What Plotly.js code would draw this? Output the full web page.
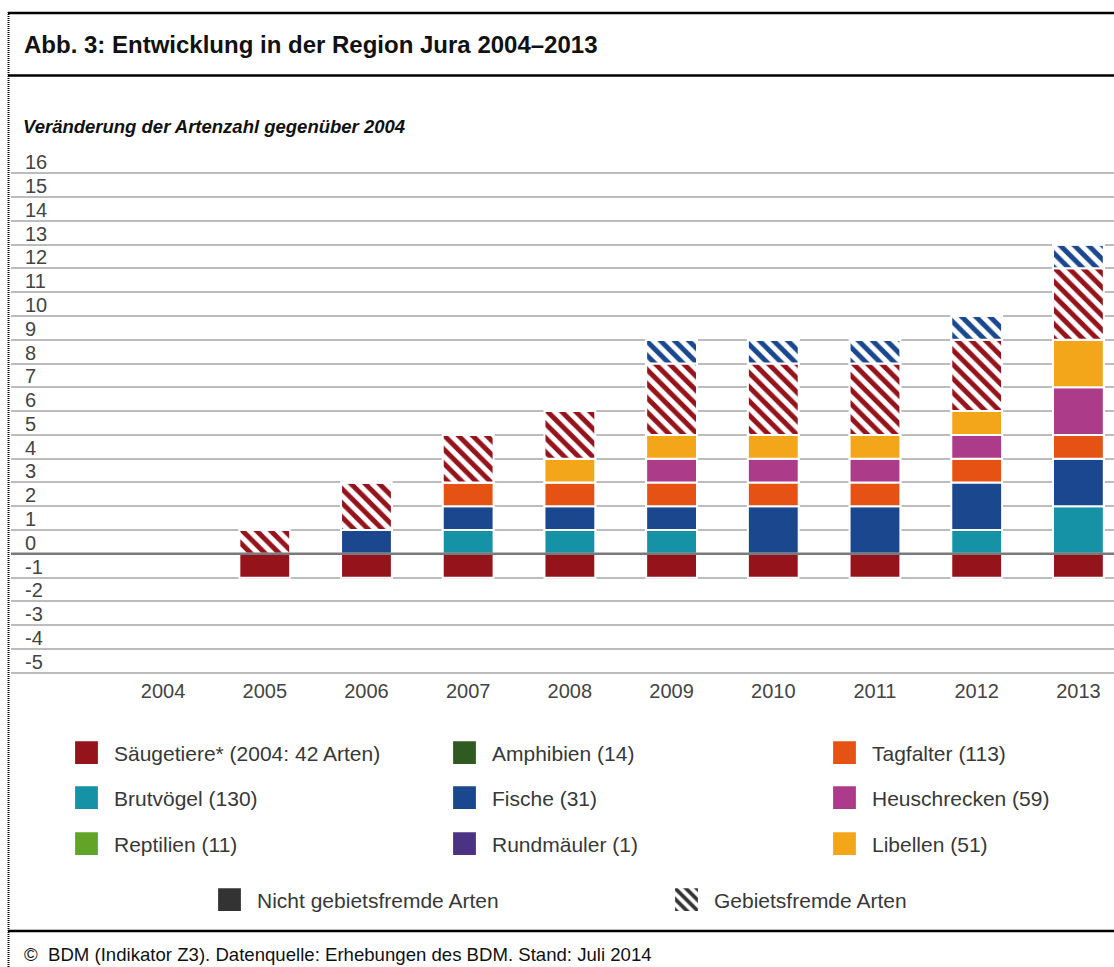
<!DOCTYPE html>
<html>
<head>
<meta charset="utf-8">
<script src="https://cdn.plot.ly/plotly-3.0.1.min.js"></script>
<style>
  html, body { margin: 0; padding: 0; background: #ffffff; }
  #chart { width: 1114px; height: 967px; }
</style>
</head>
<body>
<div id="chart"></div>
<script>
// ---------- data ----------
var years = ['2004', '2005', '2006', '2007', '2008', '2009', '2010', '2011', '2012', '2013'];

// native species (solid)
var saeugetiere  = [0, -1, -1, -1, -1, -1, -1, -1, -1, -1];
var amphibien    = [0, 0, 0, 0, 0, 0, 0, 0, 0, 0];
var tagfalter    = [0, 0, 0, 1, 1, 1, 1, 1, 1, 1];
var brutvoegel   = [0, 0, 0, 1, 1, 1, 0, 0, 1, 2];
var fische       = [0, 0, 1, 1, 1, 1, 2, 2, 2, 2];
var heuschrecken = [0, 0, 0, 0, 0, 1, 1, 1, 1, 2];
var reptilien    = [0, 0, 0, 0, 0, 0, 0, 0, 0, 0];
var rundmaeuler  = [0, 0, 0, 0, 0, 0, 0, 0, 0, 0];
var libellen     = [0, 0, 0, 0, 1, 1, 1, 1, 1, 2];

// non-native species (hatched)
var saeugetiereFremd = [0, 1, 2, 2, 2, 3, 3, 3, 3, 3];
var fischeFremd      = [0, 0, 0, 0, 0, 1, 1, 1, 1, 1];

// legend-only keys (no bars of their own)
var legendOnly = [0, 0, 0, 0, 0, 0, 0, 0, 0, 0];

var seriesNames = {
  saeugetiere: 'Säugetiere* (2004: 42 Arten)',
  amphibien: 'Amphibien (14)',
  tagfalter: 'Tagfalter (113)',
  brutvoegel: 'Brutvögel (130)',
  fische: 'Fische (31)',
  heuschrecken: 'Heuschrecken (59)',
  reptilien: 'Reptilien (11)',
  rundmaeuler: 'Rundmäuler (1)',
  libellen: 'Libellen (51)',
  nativ: 'Nicht gebietsfremde Arten',
  fremd: 'Gebietsfremde Arten'
};

var yTickVals = [-5, -4, -3, -2, -1, 0, 1, 2, 3, 4, 5, 6, 7, 8, 9, 10, 11, 12, 13, 14, 15, 16];

// ---------- styles ----------
var C = {
  saeugetiere: '#95141c',
  amphibien: '#2f5b22',
  tagfalter: '#e55214',
  brutvoegel: '#1592a6',
  fische: '#1a478e',
  heuschrecken: '#ac3b89',
  reptilien: '#62a427',
  rundmaeuler: '#4b3282',
  libellen: '#f4a61b',
  dark: '#333333'
};

var FONT = 'Liberation Sans, Arial, Helvetica, sans-serif';
var W = 1114, H = 967;
var ML = 11, MR = 0, MT = 172, MB = 293;
var PW = W - ML - MR, PH = H - MT - MB;
function px2x(px) { return (px - ML) / PW; }
function py2y(py) { return (H - MB - py) / PH; }

var edge = { color: '#ffffff', width: 2 };

function solid(key, y, legendId) {
  return {
    type: 'bar', x: years, y: y, name: seriesNames[key],
    marker: { color: C[key], line: edge },
    legend: legendId, showlegend: true, hoverinfo: 'x+y+name'
  };
}
function hatched(color, y, name) {
  return {
    type: 'bar', x: years, y: y, name: name,
    marker: { color: color, line: edge,
      pattern: { shape: '\\', fgcolor: color, bgcolor: '#ffffff', size: 10, solidity: 0.5 } },
    showlegend: false, hoverinfo: 'x+y+name'
  };
}

var traces = [
  solid('saeugetiere', saeugetiere, 'legend'),
  solid('brutvoegel', brutvoegel, 'legend4'),
  solid('fische', fische, 'legend5'),
  solid('tagfalter', tagfalter, 'legend3'),
  solid('heuschrecken', heuschrecken, 'legend6'),
  solid('libellen', libellen, 'legend9'),
  solid('amphibien', amphibien, 'legend2'),
  solid('reptilien', reptilien, 'legend7'),
  solid('rundmaeuler', rundmaeuler, 'legend8'),
  hatched(C.saeugetiere, saeugetiereFremd, 'Säugetiere, gebietsfremd'),
  hatched(C.fische, fischeFremd, 'Fische, gebietsfremd'),
  { type: 'bar', x: years, y: legendOnly, name: seriesNames.nativ, legend: 'legend10', showlegend: true,
    marker: { color: C.dark, line: edge }, hoverinfo: 'skip' },
  { type: 'bar', x: years, y: legendOnly, name: seriesNames.fremd, legend: 'legend11', showlegend: true,
    marker: { color: C.dark, line: edge,
      pattern: { shape: '\\', fgcolor: C.dark, bgcolor: '#ffffff', size: 5, solidity: 0.5 } },
    hoverinfo: 'skip' }
];

// legend placement (text start px, row centre px)
var legendFont = { family: FONT, size: 21, color: '#383838' };
var legendPos = [
  ['legend', 114, 753], ['legend2', 492, 753], ['legend3', 872, 753],
  ['legend4', 114, 798], ['legend5', 492, 798], ['legend6', 872, 798],
  ['legend7', 114, 844], ['legend8', 492, 844], ['legend9', 872, 844],
  ['legend10', 257, 900], ['legend11', 714, 900]
];

var layout = {
  width: W, height: H,
  showlegend: true,
  margin: { l: ML, r: MR, t: MT, b: MB, autoexpand: false },
  paper_bgcolor: '#ffffff', plot_bgcolor: '#ffffff',
  barmode: 'relative', bargap: 0.5,
  font: { family: FONT, color: '#444444' },
  title: {
    text: '<b>Abb. 3: Entwicklung in der Region Jura 2004–2013</b>',
    xref: 'container', yref: 'container',
    x: 24 / W, xanchor: 'left', y: 1 - 45 / H, yanchor: 'middle',
    font: { family: FONT, size: 24, color: '#111111' }
  },
  xaxis: {
    type: 'category', categoryorder: 'array', categoryarray: years,
    range: [-1.495, 9.35], showgrid: false, zeroline: false, showline: false,
    ticks: '', ticklabelstandoff: 3,
    tickfont: { family: FONT, size: 20, color: '#444444' }, fixedrange: true
  },
  yaxis: {
    range: [-5.05, 16.05], tickmode: 'array', tickvals: yTickVals,
    ticktext: yTickVals.map(String),
    showgrid: true, gridcolor: '#bcbcbc', gridwidth: 2,
    zeroline: false, showline: false, ticks: '',
    ticklabelposition: 'inside top', ticklabeloverflow: 'allow',
    ticklabelstandoff: 11, ticklabelshift: 3,
    tickfont: { family: FONT, size: 20, color: '#444444' }, fixedrange: true
  },
  annotations: [
    { text: '<b><i>Veränderung der Artenzahl gegenüber 2004</i></b>',
      xref: 'paper', yref: 'paper', x: px2x(21), y: py2y(126),
      xanchor: 'left', yanchor: 'middle', showarrow: false,
      font: { family: FONT, size: 18.5, color: '#111111' } },
    { text: '©\u00A0\u00A0BDM (Indikator Z3). Datenquelle: Erhebungen des BDM. Stand: Juli 2014',
      xref: 'paper', yref: 'paper', x: px2x(22), y: py2y(954),
      xanchor: 'left', yanchor: 'middle', showarrow: false,
      font: { family: FONT, size: 18.6, color: '#111111' } }
  ],
  shapes: [
    { type: 'line', xref: 'paper', yref: 'y', x0: 0, x1: 1, y0: 0, y1: 0,
      line: { color: '#7a7a7a', width: 2.5 }, layer: 'above' },
    { type: 'line', xref: 'paper', yref: 'paper', x0: px2x(8), x1: px2x(1114), y0: py2y(13), y1: py2y(13),
      line: { color: '#000000', width: 2.5 }, layer: 'above' },
    { type: 'line', xref: 'paper', yref: 'paper', x0: px2x(8), x1: px2x(1114), y0: py2y(75.5), y1: py2y(75.5),
      line: { color: '#000000', width: 2.5 }, layer: 'above' },
    { type: 'line', xref: 'paper', yref: 'paper', x0: px2x(8), x1: px2x(1114), y0: py2y(931), y1: py2y(931),
      line: { color: '#000000', width: 2.5 }, layer: 'above' },
    { type: 'line', xref: 'paper', yref: 'paper', x0: px2x(8.5), x1: px2x(8.5), y0: py2y(12), y1: py2y(967),
      line: { color: '#000000', width: 2, dash: '1px,1px' }, layer: 'above' }
  ]
};

legendPos.forEach(function (p) {
  layout[p[0]] = {
    visible: true,
    xref: 'container', yref: 'container',
    x: (p[1] - 55) / W, xanchor: 'left',
    y: 1 - p[2] / H, yanchor: 'middle',
    orientation: 'v', bgcolor: 'rgba(0,0,0,0)', borderwidth: 0,
    itemwidth: 45, itemclick: false, itemdoubleclick: false,
    font: legendFont
  };
});

var gd = document.getElementById('chart');
function enlargeLegendIcons() {
  var paths = gd.querySelectorAll('.legendpoints path');
  paths.forEach(function (p) {
    if (p.dataset.baseTransform === undefined) {
      p.dataset.baseTransform = p.getAttribute('transform') || '';
    }
    p.setAttribute('transform', p.dataset.baseTransform + ' scale(1.9)');
    p.style.strokeWidth = '0';
  });
}
Plotly.newPlot(gd, traces, layout, { displayModeBar: false, staticPlot: true }).then(function () {
  enlargeLegendIcons();
  if (gd.on) gd.on('plotly_afterplot', enlargeLegendIcons);
});
</script>
</body>
</html>
